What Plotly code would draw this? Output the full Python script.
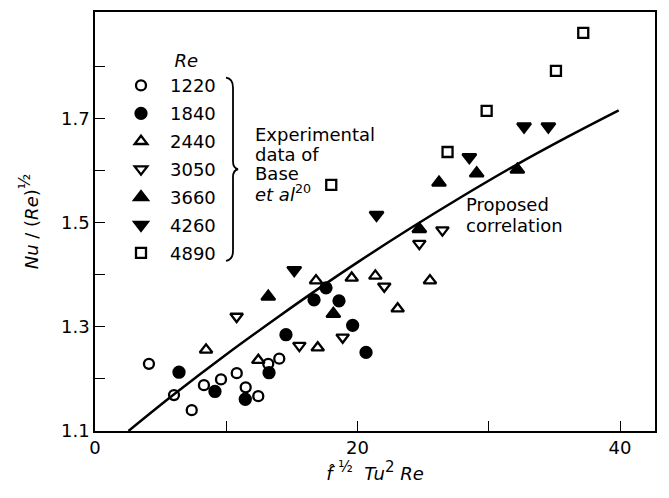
import plotly.graph_objects as go

# ---------------- data ----------------
re_labels = ["1220", "1840", "2440", "3050", "3660", "4260", "4890"]

x_1220 = [4.11, 6.02, 7.37, 8.30, 9.60, 10.80, 11.48, 12.44, 13.20, 14.04]
y_1220 = [1.229, 1.169, 1.140, 1.188, 1.199, 1.211, 1.184, 1.167, 1.229, 1.239]

x_1840 = [6.40, 9.14, 11.45, 13.26, 14.55, 16.69, 17.60, 18.59, 19.63, 20.65]
y_1840 = [1.213, 1.176, 1.161, 1.212, 1.285, 1.352, 1.375, 1.350, 1.303, 1.251]

x_2440 = [8.46, 12.44, 16.84, 16.97, 19.56, 21.36, 23.06, 25.52]
y_2440 = [1.256, 1.236, 1.389, 1.260, 1.394, 1.398, 1.335, 1.389]

x_3050 = [10.79, 15.57, 18.87, 22.04, 24.71, 26.47]
y_3050 = [1.320, 1.264, 1.280, 1.378, 1.460, 1.486]

x_3660 = [13.20, 18.16, 24.71, 26.21, 29.08, 32.18]
y_3660 = [1.358, 1.325, 1.488, 1.577, 1.595, 1.602]

x_4260 = [15.18, 21.45, 28.52, 32.69, 34.54]
y_4260 = [1.409, 1.515, 1.626, 1.685, 1.685]

x_4890 = [18.00, 26.86, 29.84, 35.12, 37.20]
y_4890 = [1.573, 1.636, 1.715, 1.792, 1.865]

# proposed correlation curve
x_corr = [2.55, 6.0, 10.0, 14.0, 17.0, 20.0, 24.0, 28.0, 32.0, 36.0, 39.9]
y_corr = [1.100, 1.170, 1.247, 1.320, 1.373, 1.424, 1.489, 1.551, 1.610, 1.665, 1.716]

x_ticks = [0, 20, 40]
y_ticks = [1.1, 1.3, 1.5, 1.7]

# ---------------- styling ----------------
FONT = "DejaVu Sans"
W, H = 669, 498
L, R, T, B = 95, 14, 10, 67
PW, PH = W - L - R, H - T - B
X_RANGE = [0, PW / 13.125]
Y_RANGE = [1.1, 1.1 + PH / 523.0]
NBSP = "\u00a0"
ENSP = "\u2002"


def px(xp):
    return (xp - L) / PW


def py(yp):
    return 1 - (yp - T) / PH


series = [
    (x_1220, y_1220, "circle-open", 10),
    (x_1840, y_1840, "circle", 11),
    (x_2440, y_2440, "triangle-up-open", 11),
    (x_3050, y_3050, "triangle-down-open", 11),
    (x_3660, y_3660, "triangle-up", 12),
    (x_4260, y_4260, "triangle-down", 12),
    (x_4890, y_4890, "square-open", 10),
]

fig = go.Figure()

fig.add_trace(go.Scatter(
    x=x_corr, y=y_corr, mode="lines",
    line=dict(color="black", width=2.5, shape="spline", smoothing=1.0),
    showlegend=False, hoverinfo="skip",
))

for lab, (xs, ys, sym, sz) in zip(re_labels, series):
    fig.add_trace(go.Scatter(
        x=xs, y=ys, mode="markers", name=ENSP + lab, legendgroup=lab,
        marker=dict(symbol=sym, size=sz, color="black",
                    line=dict(color="black", width=2.3)),
    ))

# brace
bx = 233
brace = (f"M {px(226)},{py(76)} Q {px(bx)},{py(77)} {px(bx)},{py(86)} "
         f"L {px(bx)},{py(160)} Q {px(bx)},{py(167)} {px(238)},{py(168)} "
         f"Q {px(bx)},{py(169)} {px(bx)},{py(176)} "
         f"L {px(bx)},{py(250)} Q {px(bx)},{py(259)} {px(226)},{py(260)}")
fig.add_shape(type="path", path=brace, xref="paper", yref="paper",
              line=dict(color="black", width=1.8))

ann_font = dict(family=FONT, size=18, color="black")
for txt, yp in [("Experimental", 133.5), ("data of", 153), ("Base", 172),
                ("<i>et al</i><sup>20</sup>", 192)]:
    fig.add_annotation(text=txt, x=px(253), y=py(yp), xref="paper", yref="paper",
                       xanchor="left", yanchor="middle", showarrow=False, font=ann_font)
for txt, yp in [("Proposed", 203), ("correlation", 225)]:
    fig.add_annotation(text=txt, x=px(464), y=py(yp), xref="paper", yref="paper",
                       xanchor="left", yanchor="middle", showarrow=False, font=ann_font)

fig.update_layout(
    width=W, height=H,
    margin=dict(l=L, r=R, t=T, b=B),
    paper_bgcolor="white", plot_bgcolor="white",
    font=dict(family=FONT, size=18, color="black"),
    showlegend=True,
    legend=dict(
        x=px(121), y=py(42), xanchor="left", yanchor="top",
        title=dict(text=NBSP * 9 + "<i>Re</i>", side="top", font=dict(size=18)),
        font=dict(size=18), tracegroupgap=1.5, itemwidth=30,
        bgcolor="rgba(0,0,0,0)", borderwidth=0,
    ),
    xaxis=dict(
        range=X_RANGE, showgrid=False, zeroline=False,
        showline=True, linecolor="black", linewidth=1.5, mirror=True,
        tickvals=x_ticks, ticktext=[str(v) for v in x_ticks],
        ticks="inside", ticklen=10, tickwidth=1.2, tickcolor="black",
        minor=dict(tickvals=[10, 30], ticks="inside", ticklen=10, tickwidth=1.2, tickcolor="black"),
        tickfont=dict(size=18),
        title=dict(text="<i>f\u0302</i>" + NBSP + "<sup><span style='font-size:15px'>½</span></sup>" + NBSP * 2
                        + "<i>Tu</i><sup><span style='font-size:15px'>2</span></sup> <i>Re</i>",
                   font=dict(size=18), standoff=8),
    ),
    yaxis=dict(
        range=Y_RANGE, showgrid=False, zeroline=False,
        showline=True, linecolor="black", linewidth=1.5, mirror=True,
        tickvals=y_ticks, ticktext=[f"{v:.1f}" for v in y_ticks],
        ticks="inside", ticklen=10, tickwidth=1.2, tickcolor="black",
        minor=dict(tickvals=[1.2, 1.4, 1.6, 1.8], ticks="inside", ticklen=10, tickwidth=1.2, tickcolor="black"),
        tickfont=dict(size=18),
        title=dict(text="<i>Nu</i> / (<i>Re</i>)<sup><span style='font-size:16px'>½</span></sup>", font=dict(size=18), standoff=18),
    ),
)

fig.write_html("out.html")
